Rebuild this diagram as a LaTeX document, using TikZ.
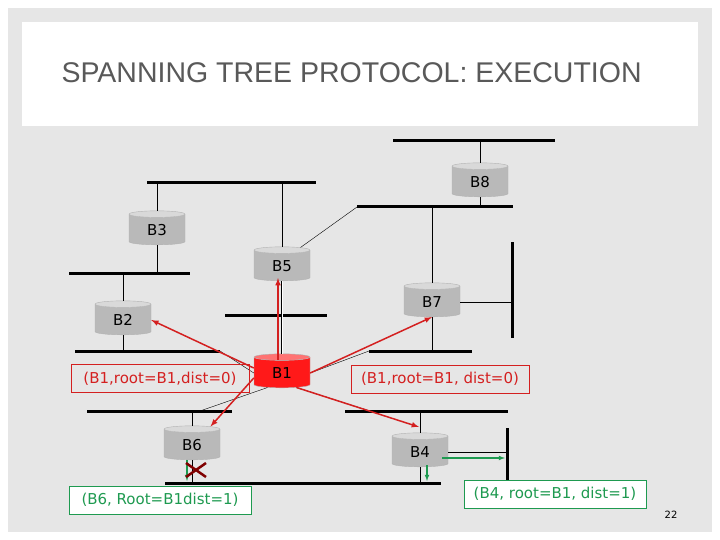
\documentclass[tikz,border=0pt]{standalone}
\usepackage{fontspec}
\setmainfont{DejaVu Sans}
\newfontfamily\titlefont{Liberation Sans}
\usetikzlibrary{shapes.geometric}
\definecolor{bg}{HTML}{E6E6E6}
\definecolor{titlegray}{HTML}{595959}
\definecolor{lanred}{HTML}{D42020}
\definecolor{langreen}{HTML}{1E9A50}
\tikzset{
  bridge/.style={cylinder, shape border rotate=90, aspect=0.3,
    minimum width=56pt, minimum height=34pt, draw=gray!60,
    cylinder uses custom fill, cylinder body fill=gray!55,
    cylinder end fill=gray!30, font=\fontsize{15}{15}\selectfont, inner sep=1pt},
  root/.style={bridge, cylinder body fill=red!90, cylinder end fill=red!55},
  lan/.style={line width=3pt},
  wire/.style={thin},
  msg/.style={lanred, line width=1.5pt, -latex},
  ack/.style={langreen, line width=1.1pt, -latex},
  redbox/.style={draw=lanred, text=lanred, font=\fontsize{15}{15}\selectfont, minimum height=28pt, minimum width=178pt, inner sep=3pt},
  greenbox/.style={draw=langreen, text=langreen, fill=white, font=\fontsize{15}{15}\selectfont, minimum height=28pt, minimum width=182pt, inner sep=3pt}
}
\begin{document}
\begin{tikzpicture}[x=1pt,y=-1pt]
  \useasboundingbox (0,0) rectangle (720,540);
  \fill[bg] (8,8) rectangle (712,532);
  \fill[white] (22,22) rectangle (698,126);
  \node[text=titlegray, font=\fontsize{28.5}{28.5}\selectfont\titlefont, anchor=west] (title) at (58,73) {SPANNING TREE PROTOCOL: EXECUTION};
  \node[font=\fontsize{10}{10}\selectfont] (page) at (671,515) {22};
  % LAN segments
  \draw[lan] (393,141) coordinate (l8a) -- (555,141) coordinate (l8b);
  \draw[lan] (357,207) coordinate (l7a) -- (513,207) coordinate (l7b);
  \draw[lan] (147,183) coordinate (l3a) -- (316,183) coordinate (l3b);
  \draw[lan] (69,273) coordinate (l2a) -- (190,273) coordinate (l2b);
  \draw[lan] (225,315) coordinate (l5a) -- (327,315) coordinate (l5b);
  \draw[lan] (75,351) coordinate (lba) -- (220,351) coordinate (lbb);
  \draw[lan] (369,351) coordinate (lca) -- (472,351) coordinate (lcb);
  \draw[lan] (512,242) coordinate (lva) -- (512,338) coordinate (lvb);
  \draw[lan] (87,411) coordinate (l6a) -- (232,411) coordinate (l6b);
  \draw[lan] (345,411) coordinate (l4a) -- (508,411) coordinate (l4b);
  \draw[lan] (165,483) coordinate (lda) -- (441,483) coordinate (ldb);
  \draw[lan] (507,428) coordinate (lwa) -- (507,482) coordinate (lwb);
  % bridges
  \node[bridge] (b8) at (480,182) {B8};
  \node[bridge] (b3) at (157,230) {B3};
  \node[bridge] (b5) at (282,266) {B5};
  \node[bridge] (b7) at (432,302) {B7};
  \node[bridge] (b2) at (123,320) {B2};
  \node[root] (b1) at (282,373) {B1};
  \node[bridge] (b6) at (192,445) {B6};
  \node[bridge] (b4) at (420,452) {B4};
  % ports
  \draw[wire] (b8.top) -- (b8.top |- l8a);
  \draw[wire] (b8.bottom) -- (b8.bottom |- l7a);
  \draw[wire] (b3.top) -- (b3.top |- l3a);
  \draw[wire] (b3.bottom) -- (b3.bottom |- l2a);
  \draw[wire] (b2.top) -- (b2.top |- l2a);
  \draw[wire] (b2.bottom) -- (b2.bottom |- lba);
  \draw[wire] (b5.top) -- (b5.top |- l3a);
  \draw[wire] (b5.north east) -- (l7a);
  \draw[wire] (b7.top) -- (b7.top |- l7a);
  \draw[wire] (b7.east) -- (b7.east -| lva);
  \draw[wire] (b7.bottom) -- (b7.bottom |- lca);
  \draw[wire] (b6.top) -- (b6.top |- l6a);
  \draw[wire] (b6.bottom) -- (b6.bottom |- lda);
  \draw[wire] (b4.top) -- (b4.top |- l4a);
  \draw[wire] (b4.bottom) -- (b4.bottom |- lda);
  \draw[wire] (b4.east) -- (b4.east -| lwa);
  \draw[wire, double] (b5.bottom) -- (b1.top);
  \draw[wire] (b1.west) -- (lbb);
  \draw[wire] (b1.south west) -- (200,411);
  \draw[wire] (b1.east) -- (lca);
  \draw[wire] (b1.south east) -- (370,411);
  % BPDUs from the root
  \draw[msg] (b1.170) -- (b2.east);
  \draw[msg] (278,360) -- (278,278);
  \draw[msg] (b1.east) -- (b7.south);
  \draw[msg] (b1.190) -- (b6.north east);
  \draw[msg] (b1.south east) -- (419,427);
  \node[redbox] (msgl) at (160,378.5) {(B1,root=B1,dist=0)};
  \node[redbox] (msgr) at (440,379) {(B1,root=B1, dist=0)};
  % forwarded BPDUs
  \draw[ack] (187,460) -- (187,481);
  \draw[ack] (427,465) -- (427,481);
  \draw[ack] (442,458) -- (505,458);
  \draw[line width=2.5pt, red!50!black] (186,463) coordinate (xa) -- (206,477) coordinate (xb);
  \draw[line width=2.5pt, red!50!black] (186,477) coordinate (xc) -- (206,463) coordinate (xd);
  \node[greenbox] (ackl) at (160,500) {(B6, Root=B1dist=1)};
  \node[greenbox] (ackr) at (555,494) {(B4, root=B1, dist=1)};
\end{tikzpicture}
\end{document}
